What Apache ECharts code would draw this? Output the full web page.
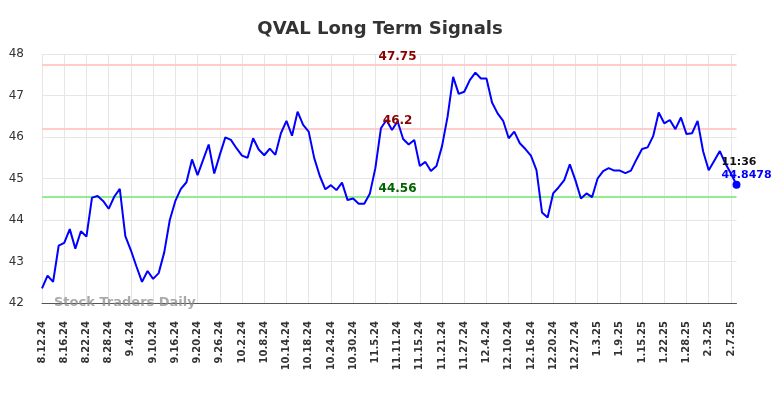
<!DOCTYPE html>
<html>
<head>
<meta charset="utf-8">
<script src="https://cdn.jsdelivr.net/npm/echarts@6/dist/echarts.min.js"></script>
<style>
html,body{margin:0;padding:0;background:#fff;}
#chart{width:784px;height:398px;}
</style>
</head>
<body>
<div id="chart"></div>
<script>
const dates = [
'8.12.24','8.13.24','8.14.24','8.15.24','8.16.24','8.19.24','8.20.24','8.21.24','8.22.24','8.23.24','8.26.24','8.27.24','8.28.24','8.29.24','8.30.24',
'9.3.24','9.4.24','9.5.24','9.6.24','9.9.24','9.10.24','9.11.24','9.12.24','9.13.24','9.16.24','9.17.24','9.18.24','9.19.24','9.20.24','9.23.24','9.24.24','9.25.24','9.26.24','9.27.24','9.30.24',
'10.1.24','10.2.24','10.3.24','10.4.24','10.7.24','10.8.24','10.9.24','10.10.24','10.11.24','10.14.24','10.15.24','10.16.24','10.17.24','10.18.24','10.21.24','10.22.24','10.23.24','10.24.24','10.25.24','10.28.24','10.29.24','10.30.24','10.31.24',
'11.1.24','11.4.24','11.5.24','11.6.24','11.7.24','11.8.24','11.11.24','11.12.24','11.13.24','11.14.24','11.15.24','11.18.24','11.19.24','11.20.24','11.21.24','11.22.24','11.25.24','11.26.24','11.27.24','11.29.24',
'12.2.24','12.3.24','12.4.24','12.5.24','12.6.24','12.9.24','12.10.24','12.11.24','12.12.24','12.13.24','12.16.24','12.17.24','12.18.24','12.19.24','12.20.24','12.23.24','12.24.24','12.26.24','12.27.24','12.30.24','12.31.24',
'1.2.25','1.3.25','1.6.25','1.7.25','1.8.25','1.9.25','1.10.25','1.13.25','1.14.25','1.15.25','1.16.25','1.17.25','1.21.25','1.22.25','1.23.25','1.24.25','1.27.25','1.28.25','1.29.25','1.30.25','1.31.25',
'2.3.25','2.4.25','2.5.25','2.6.25','2.7.25','2.10.25'
];
const prices = [
42.35,42.66,42.51,43.38,43.45,43.78,43.31,43.73,43.60,44.54,44.58,44.46,44.27,44.56,44.75,
43.61,43.27,42.88,42.51,42.77,42.58,42.72,43.22,44.00,44.46,44.75,44.91,45.46,45.08,45.45,45.82,45.12,45.57,45.99,45.93,
45.73,45.55,45.50,45.97,45.70,45.56,45.72,45.57,46.09,46.39,46.03,46.61,46.29,46.13,45.49,45.06,44.74,44.84,44.72,44.90,44.48,44.52,44.39,
44.39,44.63,45.25,46.21,46.41,46.17,46.38,45.95,45.82,45.93,45.30,45.40,45.18,45.30,45.78,46.49,47.45,47.04,47.09,47.37,
47.55,47.41,47.41,46.83,46.57,46.39,45.97,46.13,45.85,45.71,45.55,45.20,44.18,44.06,44.64,44.79,44.96,45.34,44.96,44.52,44.64,
44.55,45.00,45.18,45.25,45.19,45.19,45.13,45.19,45.46,45.71,45.75,46.02,46.59,46.33,46.41,46.19,46.47,46.07,46.09,46.39,45.65,
45.20,45.43,45.66,45.36,45.12,44.8478
];
const levels = [47.75, 46.2, 44.56];
const levelNames = ['47.75', '46.2', '44.56'];
const levelLineColors = ['#ffcccc', '#ffcccc', '#90ee90'];
const levelTextColors = ['#8b0000', '#8b0000', '#006400'];
const levelLabelIndex = 64;
const lastTime = '11:36';
const yTicks = [42, 43, 44, 45, 46, 47, 48];

const chart = echarts.init(document.getElementById('chart'));
const lastIdx = prices.length - 1;
const FONT = 'DejaVu Sans';

chart.setOption({
  animation: false,
  backgroundColor: '#ffffff',
  title: {
    text: 'QVAL Long Term Signals',
    left: 375,
    textAlign: 'center',
    top: 15,
    textStyle: { fontFamily: FONT, fontSize: 18, fontWeight: 'bold', color: '#333333' }
  },
  grid: { left: 42, right: 47.5, top: 54, bottom: 95, containLabel: false },
  xAxis: {
    type: 'category',
    data: dates,
    boundaryGap: false,
    axisLine: { show: true, lineStyle: { color: '#555555', width: 1 } },
    axisTick: { show: false },
    axisLabel: {
      interval: 3, rotate: 90, margin: 18,
      fontFamily: FONT, fontSize: 10, fontWeight: 'bold', color: '#333333'
    },
    splitLine: { show: true, interval: 3, lineStyle: { color: '#e6e6e6', width: 1 } }
  },
  yAxis: {
    type: 'value',
    min: yTicks[0], max: yTicks[yTicks.length - 1], interval: 1,
    axisLine: { show: false },
    axisTick: { show: false },
    axisLabel: { margin: 18, fontFamily: FONT, fontSize: 12, color: '#333333' },
    splitLine: { show: true, lineStyle: { color: '#e6e6e6', width: 1 } }
  },
  graphic: [{
    type: 'text', left: 54, top: 296, z: 100,
    style: { text: 'Stock Traders Daily', font: 'bold 13px "DejaVu Sans"', fill: 'rgba(140,140,140,0.75)' }
  }],
  series: [
    {
      type: 'line',
      data: prices,
      symbol: 'none',
      lineStyle: { color: '#0000ff', width: 2 },
      itemStyle: { color: '#0000ff' },
      z: 3,
      markLine: {
        silent: true,
        symbol: 'none',
        label: { show: false },
        z: 1,
        data: levels.map((v, i) => ({ yAxis: v, lineStyle: { color: levelLineColors[i], width: 2, type: 'solid' } }))
      }
    },
    {
      type: 'scatter',
      data: levels.map((v, i) => ({
        value: [levelLabelIndex, v],
        label: { color: levelTextColors[i], formatter: levelNames[i] }
      })),
      symbolSize: 0,
      silent: true,
      itemStyle: { opacity: 1 },
      z: 5,
      label: {
        show: true, position: 'top', distance: 2,
        fontFamily: FONT, fontSize: 12, fontWeight: 'bold'
      }
    },
    {
      type: 'scatter',
      data: [[lastIdx, prices[lastIdx]]],
      symbol: 'circle',
      symbolSize: 8,
      itemStyle: { color: '#0000ff', opacity: 1 },
      z: 6,
      label: {
        show: true,
        position: [-11, -25],
        align: 'left',
        verticalAlign: 'top',
        formatter: () => '{t|' + lastTime + '}\n{v|' + prices[lastIdx] + '}',
        rich: {
          t: { fontFamily: FONT, fontSize: 11, fontWeight: 'bold', color: '#111111', lineHeight: 13 },
          v: { fontFamily: FONT, fontSize: 11, fontWeight: 'bold', color: '#0000ff', lineHeight: 13 }
        }
      }
    }
  ]
});
</script>
</body>
</html>
